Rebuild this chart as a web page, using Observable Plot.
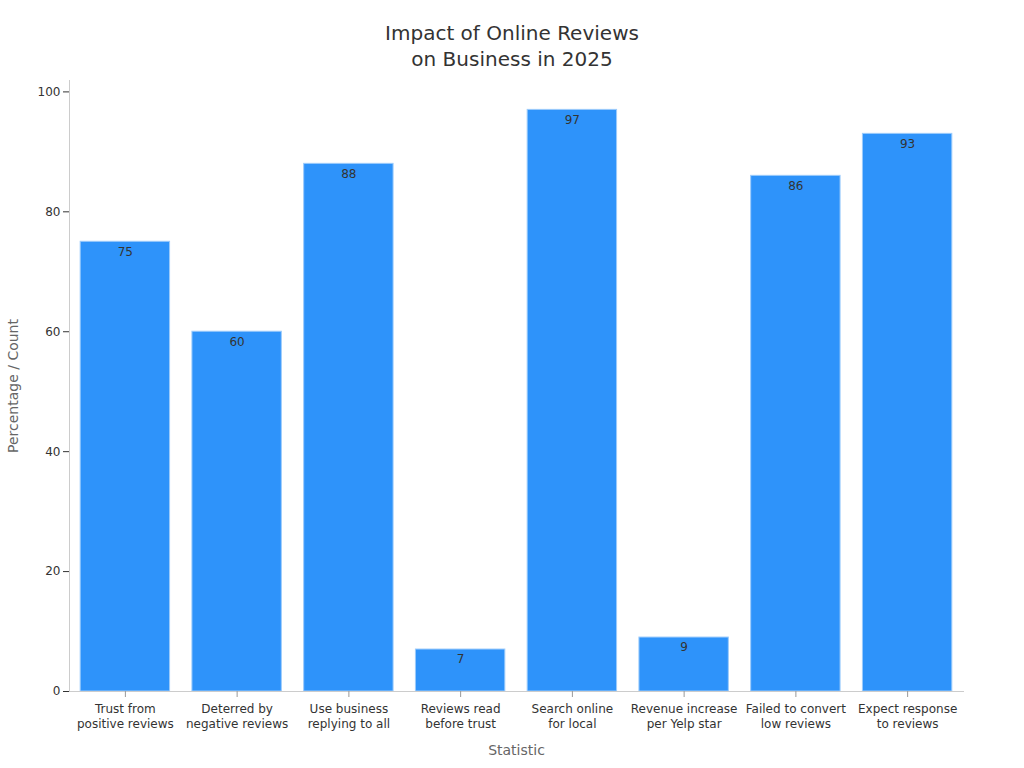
<!DOCTYPE html>
<html>
<head>
<meta charset="utf-8">
<script src="https://cdn.jsdelivr.net/npm/d3@7"></script>
<script src="https://cdn.jsdelivr.net/npm/@observablehq/plot@0.6"></script>
<style>
  body { margin: 0; background: #fff; font-family: "DejaVu Sans", sans-serif; }
  #title { height: 76px; box-sizing: border-box; padding-top: 20px; text-align: center;
           font-size: 20px; line-height: 26px; color: #333; }
  #chart svg { display: block; }
</style>
</head>
<body>
<div id="title">Impact of Online Reviews<br>on Business in 2025</div>
<div id="chart"></div>
<script>
// Statistic labels (two lines each) and their values
const categories = [
  "Trust from\npositive reviews",
  "Deterred by\nnegative reviews",
  "Use business\nreplying to all",
  "Reviews read\nbefore trust",
  "Search online\nfor local",
  "Revenue increase\nper Yelp star",
  "Failed to convert\nlow reviews",
  "Expect response\nto reviews"
];
const values = [75, 60, 88, 7, 97, 9, 86, 93];
const yTicks = [0, 20, 40, 60, 80, 100];

const data = categories.map((c, i) => ({stat: c, value: values[i]}));

const chart = Plot.plot({
  width: 1024,
  height: 692,
  marginTop: 4,
  marginBottom: 77,
  marginLeft: 69,
  marginRight: 61,
  style: {fontFamily: "DejaVu Sans, sans-serif", fontSize: "12px", color: "#333"},
  x: {domain: categories, paddingInner: 0.2, paddingOuter: 0.1, round: false, label: null},
  y: {domain: [0, 101.9], label: null},
  marks: [
    Plot.barY(data, {x: "stat", y: "value", fill: "#2E93FA", stroke: "#9CCBFB", strokeWidth: 1}),
    Plot.text(data, {x: "stat", y: "value", text: d => String(d.value), dy: 10, fill: "#333", fontSize: 12}),
    Plot.frame({anchor: "left", stroke: "#ccc"}),
    Plot.frame({anchor: "bottom", stroke: "#ccc"}),
    Plot.axisY({ticks: yTicks, tickSize: 6, tickPadding: 3, fontSize: 12, color: "#333", label: null}),
    Plot.axisX({tickSize: 6, tickPadding: 4, stroke: "#999", fill: "#333", fontSize: 12, label: null, lineHeight: 1.3}),
    Plot.text(["Percentage / Count"], {frameAnchor: "left", textAnchor: "middle", dx: -56, rotate: -90, fill: "#666", fontSize: 14}),
    Plot.text(["Statistic"], {frameAnchor: "bottom", dy: 63, fill: "#666", fontSize: 14})
  ]
});
document.getElementById("chart").appendChild(chart);
</script>
</body>
</html>
